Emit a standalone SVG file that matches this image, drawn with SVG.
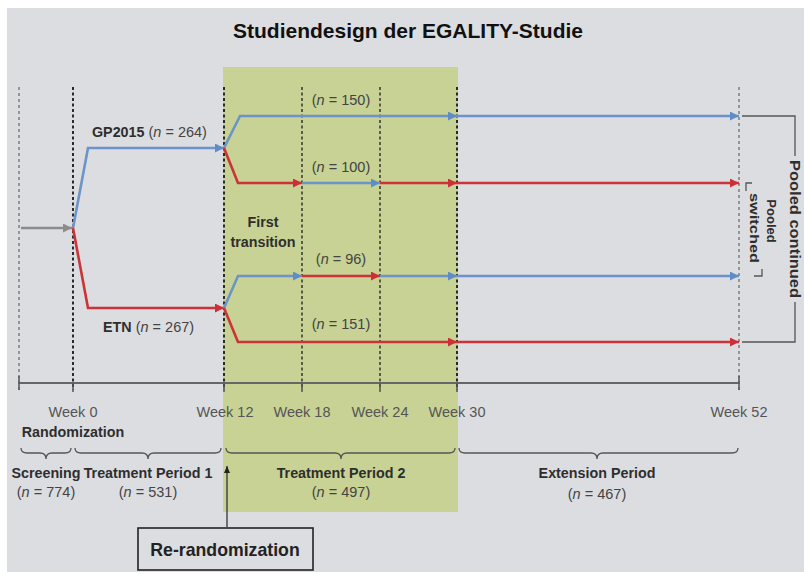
<svg xmlns="http://www.w3.org/2000/svg" width="804" height="575" viewBox="0 0 804 575">
<defs>
<style>
text{font-family:"Liberation Sans",Arial,sans-serif;fill:#2e2e2e}
.b{font-weight:bold}
.wk{font-size:14.5px;fill:#555}
.lbl{font-size:14.3px}
.n{font-size:14.5px;fill:#444}
.vd{stroke:#2a2a2a;stroke-width:2;stroke-dasharray:3 2.5;fill:none}
.vg{stroke:#666;stroke-width:1.2;stroke-dasharray:3 3;fill:none}
.bl{stroke:#6b95c8;stroke-width:2.6;fill:none}
.rd{stroke:#cc3338;stroke-width:2.6;fill:none}
.gr{stroke:#8c8c8c;stroke-width:2.6;fill:none}
.br{stroke:#555;stroke-width:1.3;fill:none}
</style>
<marker id="ab" markerWidth="9" markerHeight="9" refX="9" refY="4.5" orient="auto" markerUnits="userSpaceOnUse"><path d="M0,0 L9,4.5 L0,9 z" fill="#5f8cc4"/></marker>
<marker id="ar" markerWidth="9" markerHeight="9" refX="9" refY="4.5" orient="auto" markerUnits="userSpaceOnUse"><path d="M0,0 L9,4.5 L0,9 z" fill="#cc2f35"/></marker>
<marker id="ag" markerWidth="9" markerHeight="9" refX="9" refY="4.5" orient="auto" markerUnits="userSpaceOnUse"><path d="M0,0 L9,4.5 L0,9 z" fill="#8c8c8c"/></marker>
<marker id="ak" markerWidth="7" markerHeight="6" refX="7" refY="3" orient="auto" markerUnits="userSpaceOnUse"><path d="M0,0 L7,3 L0,6 z" fill="#222"/></marker>
</defs>
<rect width="804" height="575" fill="#ffffff"/>
<rect x="7" y="8" width="797" height="564" fill="#dcdde0"/>
<rect id="tp2-band" x="223" y="67" width="235" height="445" fill="#c7d294"/>
<text id="title" class="b" x="408" y="38" text-anchor="middle" font-size="21" style="fill:#111">Studiendesign der EGALITY-Studie</text>

<g id="timeline">
<line x1="19" y1="87" x2="19" y2="390" class="vg"/>
<line x1="73" y1="87" x2="73" y2="390" class="vd"/>
<line x1="224" y1="87" x2="224" y2="390" class="vd"/>
<line x1="302" y1="87" x2="302" y2="390" class="vd" style="stroke-width:1.4"/>
<line x1="380" y1="87" x2="380" y2="390" class="vd" style="stroke-width:1.4"/>
<line x1="457" y1="87" x2="457" y2="390" class="vd"/>
<line x1="739" y1="87" x2="739" y2="390" class="vg"/>
<line x1="19" y1="383" x2="739" y2="383" stroke="#666" stroke-width="2"/>
<path d="M19,376 V390 M73,383 V392 M224,383 V392 M302,383 V392 M380,383 V392 M457,383 V392 M739,376 V390" stroke="#555" stroke-width="1.5" fill="none"/>
</g>

<g id="connectors">
<line x1="21" y1="228" x2="72" y2="228" class="gr" marker-end="url(#ag)"/>
<polyline points="73,228 88,148 224,148" class="bl" marker-end="url(#ab)"/>
<polyline points="73,228 88,308 224,308" class="rd" marker-end="url(#ar)"/>
<polyline points="224,148 240,116 457,116" class="bl" marker-end="url(#ab)"/>
<line x1="457" y1="116" x2="739" y2="116" class="bl" marker-end="url(#ab)"/>
<polyline points="224,148 238,183 302,183" class="rd" marker-end="url(#ar)"/>
<line x1="302" y1="183" x2="380" y2="183" class="bl" marker-end="url(#ab)"/>
<line x1="380" y1="183" x2="457" y2="183" class="rd" marker-end="url(#ar)"/>
<line x1="457" y1="183" x2="739" y2="183" class="rd" marker-end="url(#ar)"/>
<polyline points="224,308 238,276 302,276" class="bl" marker-end="url(#ab)"/>
<line x1="302" y1="276" x2="380" y2="276" class="rd" marker-end="url(#ar)"/>
<line x1="380" y1="276" x2="457" y2="276" class="bl" marker-end="url(#ab)"/>
<line x1="457" y1="276" x2="739" y2="276" class="bl" marker-end="url(#ab)"/>
<polyline points="224,308 238,342 457,342" class="rd" marker-end="url(#ar)"/>
<line x1="457" y1="342" x2="739" y2="342" class="rd" marker-end="url(#ar)"/>
<line x1="227" y1="527" x2="227" y2="466" stroke="#333" stroke-width="1.3" marker-end="url(#ak)"/>
</g>

<g id="arm-labels">
<text x="92" y="137" class="lbl"><tspan class="b">GP2015</tspan><tspan class="n"> (<tspan font-style="italic">n</tspan> = 264)</tspan></text>
<text x="103" y="332" class="lbl"><tspan class="b">ETN</tspan><tspan class="n"> (<tspan font-style="italic">n</tspan> = 267)</tspan></text>
<text x="341" y="105" class="n" text-anchor="middle">(<tspan font-style="italic">n</tspan> = 150)</text>
<text x="341" y="172" class="n" text-anchor="middle">(<tspan font-style="italic">n</tspan> = 100)</text>
<text x="341" y="264" class="n" text-anchor="middle">(<tspan font-style="italic">n</tspan> = 96)</text>
<text x="341" y="329" class="n" text-anchor="middle">(<tspan font-style="italic">n</tspan> = 151)</text>
<text x="263" y="227" class="lbl b" text-anchor="middle">First</text>
<text x="263" y="247" class="lbl b" text-anchor="middle">transition</text>
</g>

<g id="pooled-continued">
<path d="M742,116 H795 V156 M795,302 V342 H742" class="br"/>
<text transform="translate(790,229) rotate(90)" class="b" text-anchor="middle" font-size="14.5" textLength="138" lengthAdjust="spacingAndGlyphs">Pooled continued</text>
</g>
<g id="pooled-switched">
<path d="M746,191 V183 H752 M754,276 H762 V269" class="br"/>
<text transform="translate(767,221) rotate(90)" class="b" text-anchor="middle" font-size="13">Pooled</text>
<text transform="translate(750,228) rotate(90)" class="b" text-anchor="middle" font-size="13" textLength="70" lengthAdjust="spacingAndGlyphs">switched</text>
</g>

<g id="week-labels">
<text x="73" y="417" class="wk" text-anchor="middle">Week 0</text>
<text x="225" y="417" class="wk" text-anchor="middle">Week 12</text>
<text x="302" y="417" class="wk" text-anchor="middle">Week 18</text>
<text x="380" y="417" class="wk" text-anchor="middle">Week 24</text>
<text x="457" y="417" class="wk" text-anchor="middle">Week 30</text>
<text x="739" y="417" class="wk" text-anchor="middle">Week 52</text>
<text x="73" y="437" class="lbl b" text-anchor="middle">Randomization</text>
</g>

<g id="periods">
<path d="M21,448 q0,5 6,5 h13 q6,0 6,6 q0,-6 6,-6 h13 q6,0 6,-5" class="br"/>
<path d="M75,448 q0,5 6,5 h61 q6,0 6,6 q0,-6 6,-6 h61 q6,0 6,-5" class="br"/>
<path d="M226,448 q0,5 6,5 h103 q6,0 6,6 q0,-6 6,-6 h102 q6,0 6,-5" class="br"/>
<path d="M459,448 q0,5 6,5 h126 q6,0 6,6 q0,-6 6,-6 h129 q6,0 6,-5" class="br"/>
<text x="46" y="478" class="lbl b" text-anchor="middle">Screening</text>
<text x="148" y="478" class="lbl b" text-anchor="middle">Treatment Period 1</text>
<text x="341" y="478" class="lbl b" text-anchor="middle">Treatment Period 2</text>
<text x="597" y="478" class="lbl b" text-anchor="middle">Extension Period</text>
<text x="46" y="497" class="n" text-anchor="middle">(<tspan font-style="italic">n</tspan> = 774)</text>
<text x="148" y="497" class="n" text-anchor="middle">(<tspan font-style="italic">n</tspan> = 531)</text>
<text x="341" y="497" class="n" text-anchor="middle">(<tspan font-style="italic">n</tspan> = 497)</text>
<text x="597" y="499" class="n" text-anchor="middle">(<tspan font-style="italic">n</tspan> = 467)</text>
</g>

<g id="re-randomization">
<rect x="138" y="528" width="175" height="42" fill="#dcdde0" stroke="#222" stroke-width="1.6"/>
<text x="225" y="556" class="b" text-anchor="middle" font-size="17.7" style="fill:#222">Re-randomization</text>
</g>
</svg>
